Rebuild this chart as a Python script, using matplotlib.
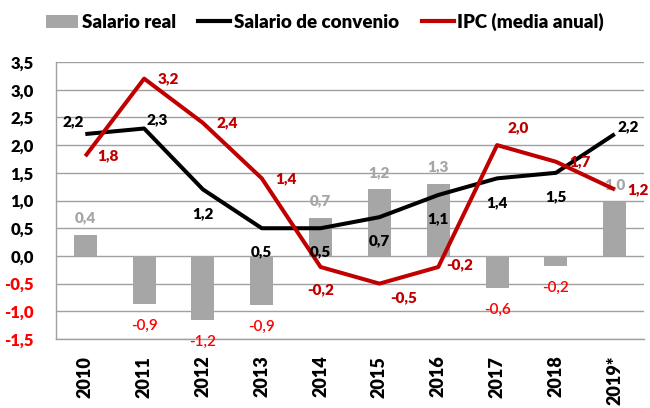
import matplotlib
matplotlib.use("Agg")
import numpy as np
import matplotlib.pyplot as plt
from matplotlib.patches import Patch
from matplotlib.lines import Line2D

plt.rcParams['font.family'] = ['Lato', 'DejaVu Sans']
plt.rcParams['font.weight'] = 'heavy'

years = ["2010", "2011", "2012", "2013", "2014", "2015", "2016", "2017", "2018", "2019*"]
salario_real = [0.38, -0.86, -1.16, -0.88, 0.69, 1.2, 1.3, -0.57, -0.18, 0.98]
salario_convenio = [2.2, 2.3, 1.2, 0.5, 0.5, 0.7, 1.1, 1.4, 1.5, 2.2]
ipc = [1.8, 3.2, 2.4, 1.4, -0.2, -0.5, -0.2, 2.0, 1.7, 1.2]

# label offsets in pixels (dx, dy)
conv_off = [(-12, 12), (13, 9), (0, -24), (0, -24), (0, -24), (0, -24),
            (0, -24), (0, -24), (0, -24), (13, 7)]
ipc_off = [(23, 0), (24, 0), (24, 0), (24, 0), (0, -23), (24, -14),
           (21, 2), (21, 17), (24, 0), (23, 0)]

GRAY = "#A6A6A6"
DARKRED = "#C00000"
RED = "#FF0000"
W = "heavy"


def fmt(v):
    return f"{v:.1f}".replace(".", ",")


fig = plt.figure(figsize=(6.5, 4.08), dpi=100)
ax = fig.add_axes([0.086, 0.169, 0.905, 0.679])

x = np.arange(len(years))
ax.bar(x, salario_real, width=0.39, color=GRAY, zorder=2)
ax.plot(x, salario_convenio, color="black", lw=2.9, zorder=3, solid_capstyle="butt")
ax.plot(x, ipc, color=DARKRED, lw=2.9, zorder=4, solid_capstyle="butt")

for i, v in enumerate(salario_real):
    if v >= 0:
        ax.annotate(fmt(v), (x[i], v), xytext=(0, 17), textcoords="offset pixels",
                    ha="center", va="center", color=GRAY, fontsize=11, fontweight=W)
    else:
        ax.annotate(fmt(v), (x[i], v), xytext=(0, -22), textcoords="offset pixels",
                    ha="center", va="center", color=RED, fontsize=11, fontweight="semibold")

for i, v in enumerate(salario_convenio):
    ax.annotate(fmt(v), (x[i], v), xytext=conv_off[i], textcoords="offset pixels",
                ha="center", va="center", color="black", fontsize=11, fontweight=W, zorder=5)

for i, v in enumerate(ipc):
    ax.annotate(fmt(v), (x[i], v), xytext=ipc_off[i], textcoords="offset pixels",
                ha="center", va="center", color=DARKRED, fontsize=11, fontweight=W, zorder=5)

ax.set_xlim(-0.5, len(years) - 0.5)
ax.set_ylim(-1.5, 3.5)
yt = np.arange(-1.5, 3.51, 0.5)
ax.set_yticks(yt)
ax.set_yticklabels([fmt(t) for t in yt], fontsize=12, fontweight=W)
for lab, t in zip(ax.get_yticklabels(), yt):
    lab.set_color(RED if t < 0 else "black")
ax.set_xticks(x)
ax.set_xticklabels(years, rotation=90, fontsize=13, fontweight=W)
ax.tick_params(axis="both", length=0)
ax.tick_params(axis="x", pad=12)
ax.tick_params(axis="y", pad=16)

ax.grid(axis="y", color="#A0A0A0", lw=1, zorder=0)
ax.set_axisbelow(True)
for s in ["top", "right"]:
    ax.spines[s].set_visible(False)
for s in ["left", "bottom"]:
    ax.spines[s].set_color("#A0A0A0")
    ax.spines[s].set_linewidth(1)

handles = [Patch(facecolor=GRAY, edgecolor="none"),
           Line2D([0], [0], color="black", lw=3),
           Line2D([0], [0], color=DARKRED, lw=3)]
labels = ["Salario real", "Salario de convenio", "IPC (media anual)"]
fig.legend(handles, labels, loc="center", bbox_to_anchor=(0.5, 0.946), ncol=3,
           frameon=False, handlelength=1.7, handletextpad=0.2,
           columnspacing=1.2, prop={"weight": W, "size": 13.5})

fig.savefig("out.png", dpi=100)
